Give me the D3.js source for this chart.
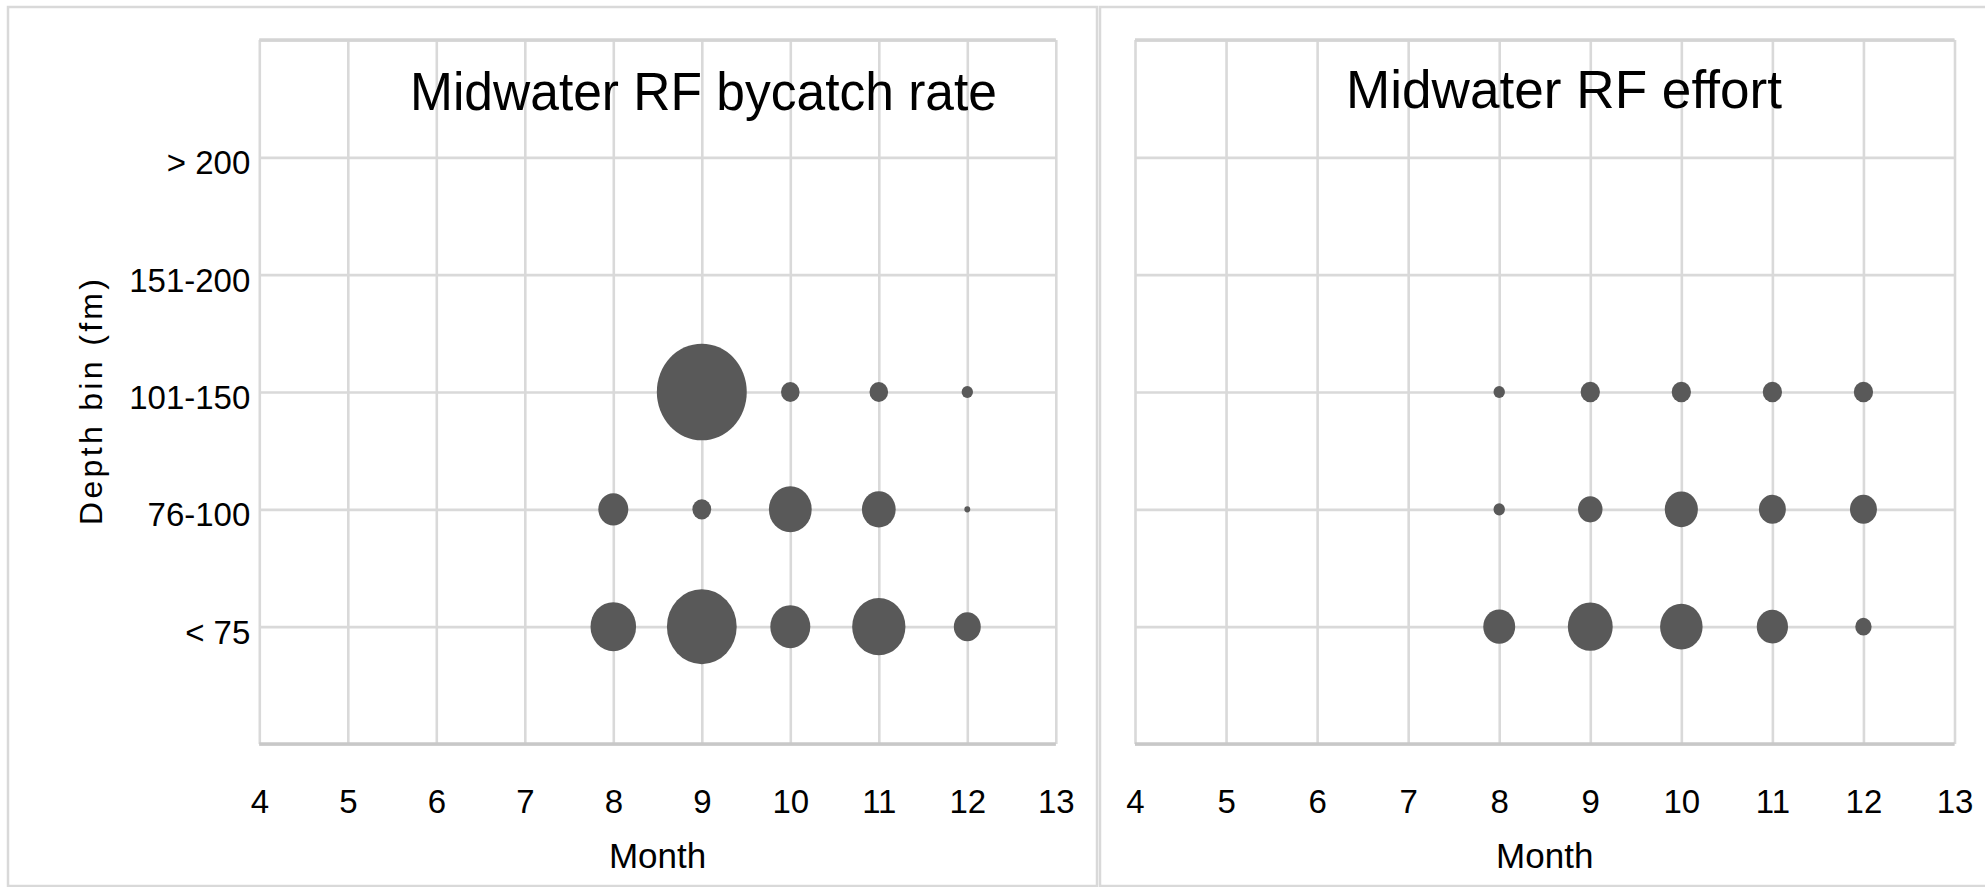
<!DOCTYPE html>
<html>
<head>
<meta charset="utf-8">
<script src="https://cdn.jsdelivr.net/npm/d3@7"></script>
<style>
  html, body { margin: 0; padding: 0; background: #ffffff; }
  svg { display: block; }
  text { font-family: "Liberation Sans", Arial, sans-serif; fill: #000000; }
</style>
</head>
<body>
<svg id="chart" width="1985" height="887"></svg>
<script>
// Months and depth bins
const months = [8, 9, 10, 11, 12];
const monthTicks = [4, 5, 6, 7, 8, 9, 10, 11, 12, 13];
const depthBins = ["< 75", "76-100", "101-150", "151-200", "> 200"];

// Bycatch rate by depth bin (relative units, one value per month above; null = no data)
const bycatchLt75    = [24.0, 56.3, 18.5, 32.8, 8.4];
const bycatch76to100 = [10.4, 4.1, 21.2, 13.2, 0.4];
const bycatch101to150 = [null, 93.5, 4.0, 4.0, 1.5];

// Fishing effort by depth bin (relative units)
const effortLt75    = [11.8, 23.3, 20.9, 11.3, 3.1];
const effort76to100 = [1.5, 6.9, 12.7, 8.4, 8.4];
const effort101to150 = [1.5, 4.3, 4.3, 4.3, 4.3];

const svg = d3.select("#chart");
const W = 1985, H = 887;

svg.append("rect").attr("width", W).attr("height", H).attr("fill", "#ffffff");

// chart frames
svg.append("rect").attr("x", 8).attr("y", 7).attr("width", 1089).attr("height", 879)
  .attr("fill", "none").attr("stroke", "#d9d9d9").attr("stroke-width", 2.5);
svg.append("rect").attr("x", 1100).attr("y", 7).attr("width", 900).attr("height", 879)
  .attr("fill", "none").attr("stroke", "#d9d9d9").attr("stroke-width", 2.5);

const plotTop = 40, plotBottom = 744;
const y = d3.scaleLinear().domain([0, 6]).range([plotBottom, plotTop]);
const r = d3.scaleSqrt().domain([0, 100]).range([0, 50]);
const aspect = 0.93; // bubbles are drawn slightly narrower than tall

function toRows(a, b, c) {
  const rows = [];
  [a, b, c].forEach((vals, i) => {
    vals.forEach((v, j) => {
      if (v != null) rows.push({ month: months[j], bin: i + 1, value: v });
    });
  });
  return rows;
}

const panels = [
  { title: "Midwater RF bycatch rate", titleX: 410, titleY: 110, titleLen: 587,
    left: 259.3, right: 1055.8, showY: true,
    data: toRows(bycatchLt75, bycatch76to100, bycatch101to150) },
  { title: "Midwater RF effort", titleX: 1346, titleY: 108, titleLen: 436,
    left: 1135, right: 1954.5, showY: false,
    data: toRows(effortLt75, effort76to100, effort101to150) }
];

panels.forEach(p => {
  const x = d3.scaleLinear().domain([4, 13]).range([p.left, p.right]);
  const g = svg.append("g");
  const h = plotBottom - plotTop;

  // vertical gridlines + month labels
  const xAxis = g.append("g").attr("transform", `translate(0,${plotBottom})`)
    .call(d3.axisBottom(x).tickValues(monthTicks).tickSize(-h).tickPadding(46)
      .tickFormat(d3.format("d")));
  xAxis.select(".domain").remove();
  xAxis.selectAll("line").attr("stroke", "#d9d9d9").attr("stroke-width", 2.6);
  xAxis.selectAll("text").attr("font-size", 33).style("font-family", "'Liberation Sans', Arial, sans-serif")
    .attr("fill", "#000");

  // horizontal gridlines + depth labels
  const yAxis = g.append("g").attr("transform", `translate(${p.left},0)`)
    .call(d3.axisLeft(y).tickValues(d3.range(0, 7)).tickSize(-(p.right - p.left)).tickPadding(9)
      .tickFormat(d => (p.showY && d >= 1 && d <= 5) ? depthBins[d - 1] : ""));
  yAxis.select(".domain").remove();
  yAxis.selectAll("line").attr("stroke", "#d9d9d9").attr("stroke-width", 2.6);
  yAxis.selectAll("text").attr("font-size", 33).attr("dy", "0.5em")
    .style("font-family", "'Liberation Sans', Arial, sans-serif").attr("fill", "#000");

  // plot edges
  [0, 6].forEach(v => {
    g.append("line").attr("x1", p.left).attr("x2", p.right)
      .attr("y1", y(v)).attr("y2", y(v))
      .attr("stroke", v === 0 ? "#c8c8c8" : "#d4d4d4").attr("stroke-width", 3.4);
  });

  // bubbles
  g.append("g").selectAll("ellipse").data(p.data).join("ellipse")
    .attr("cx", d => x(d.month))
    .attr("cy", d => y(d.bin))
    .attr("rx", d => r(d.value) * aspect)
    .attr("ry", d => r(d.value))
    .attr("fill", "#595959");

  // titles
  svg.append("text").attr("x", p.titleX).attr("y", p.titleY)
    .attr("font-size", 54).attr("textLength", p.titleLen).attr("lengthAdjust", "spacingAndGlyphs")
    .text(p.title);

  svg.append("text").attr("x", (p.left + p.right) / 2).attr("y", 868)
    .attr("text-anchor", "middle").attr("font-size", 35).text("Month");

  if (p.showY) {
    svg.append("text")
      .attr("transform", `translate(102,${(279 + 525) / 2}) rotate(-90)`)
      .attr("text-anchor", "middle").attr("font-size", 32)
      .attr("textLength", 246).attr("lengthAdjust", "spacing")
      .text("Depth bin (fm)");
  }
});
</script>
</body>
</html>
